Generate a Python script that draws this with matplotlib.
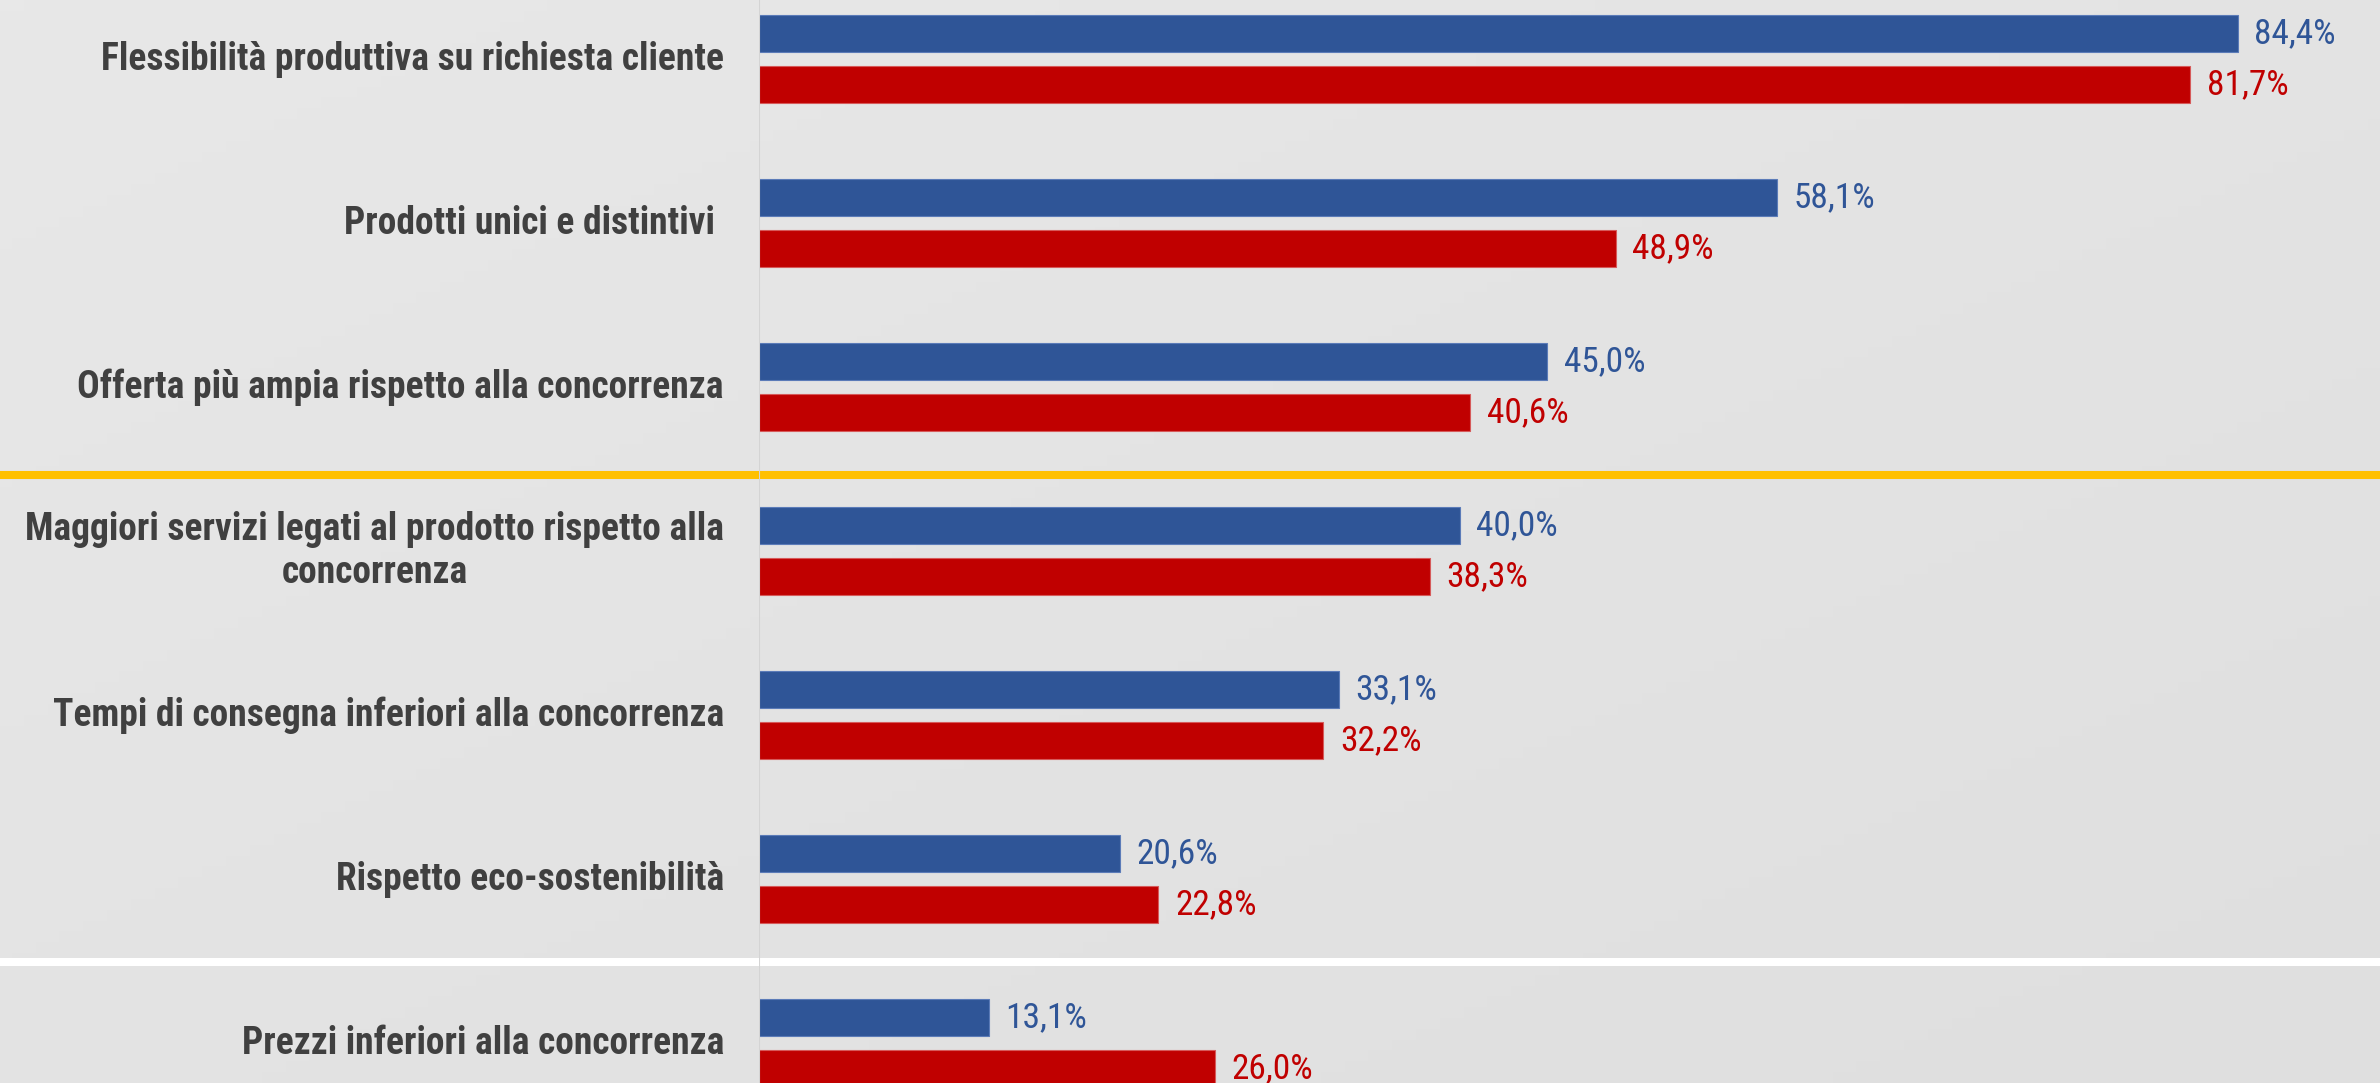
import numpy as np
import matplotlib
matplotlib.use("Agg")
import matplotlib.pyplot as plt
from matplotlib.transforms import blended_transform_factory

# dati
categorie = [
    "Flessibilità produttiva su richiesta cliente",
    "Prodotti unici e distintivi ",
    "Offerta più ampia rispetto alla concorrenza",
    "Maggiori servizi legati al prodotto rispetto alla\nconcorrenza",
    "Tempi di consegna inferiori alla concorrenza",
    "Rispetto eco-sostenibilità",
    "Prezzi inferiori alla concorrenza",
]
serie_blu = [84.4, 58.1, 45.0, 40.0, 33.1, 20.6, 13.1]
serie_rossa = [81.7, 48.9, 40.6, 38.3, 32.2, 22.8, 26.0]

BLU = "#2F5597"
ROSSO = "#C00000"
GRIGIO_TESTO = "#404040"

font_label = ["Roboto Condensed", "Liberation Sans Narrow", "DejaVu Sans"]

fig = plt.figure(figsize=(23.8, 10.83), dpi=100)

# sfondo con leggero gradiente
bg = fig.add_axes([0, 0, 1, 1], zorder=-10)
xx, yy = np.meshgrid(np.linspace(0, 1, 200), np.linspace(0, 1, 100))
grad = 0.5 * xx + 0.5 * yy
bg.imshow(grad, cmap=matplotlib.colors.LinearSegmentedColormap.from_list(
    "bg", ["#e8e8e8", "#dfdfdf"]), aspect="auto", extent=[0, 1, 1, 0])
bg.set_axis_off()

left = 759 / 2380
ax = fig.add_axes([left, 0, 1 - left, 1])
ax.set_facecolor("none")

y = np.arange(len(categorie))
h = 0.226
off = 0.157

ax.barh(y - off, serie_blu, height=h, color=BLU, edgecolor="#5b7bb8", linewidth=0.8, zorder=3)
ax.barh(y + off, serie_rossa, height=h, color=ROSSO, edgecolor="#d65a5a", linewidth=0.8, zorder=3)

for i in range(len(categorie)):
    ax.text(serie_blu[i] + 0.95, y[i] - off, f"{serie_blu[i]:.1f}%".replace(".", ","),
            va="center", ha="left", color=BLU, fontsize=25.5, family=font_label)
    ax.text(serie_rossa[i] + 0.95, y[i] + off, f"{serie_rossa[i]:.1f}%".replace(".", ","),
            va="center", ha="left", color=ROSSO, fontsize=25.5, family=font_label)

# etichette categorie a sinistra
for i, c in enumerate(categorie):
    ax.text(-2.0, y[i], c, ha="right", va="center", multialignment="center",
            color=GRIGIO_TESTO, fontsize=27, fontweight="bold", family=font_label,
            linespacing=1.2, clip_on=False)

ax.set_xlim(0, (2380 - 759) / 17.52)
ax.set_ylim((1083 - 59) / 164, -59 / 164)

# linee di separazione su tutta la larghezza
tr = blended_transform_factory(fig.transFigure, ax.transData)
ax.plot([0, 1], [2.537, 2.537], transform=tr, color="#FFC000", lw=5.8, clip_on=False, zorder=2)
ax.plot([0, 1], [5.506, 5.506], transform=tr, color="white", lw=5.8, clip_on=False, zorder=2)

ax.axvline(0, color="#d4d4d4", lw=1.5, zorder=4)

ax.set_xticks([])
ax.set_yticks([])
for s in ax.spines.values():
    s.set_visible(False)

fig.savefig("out.png", dpi=100)
